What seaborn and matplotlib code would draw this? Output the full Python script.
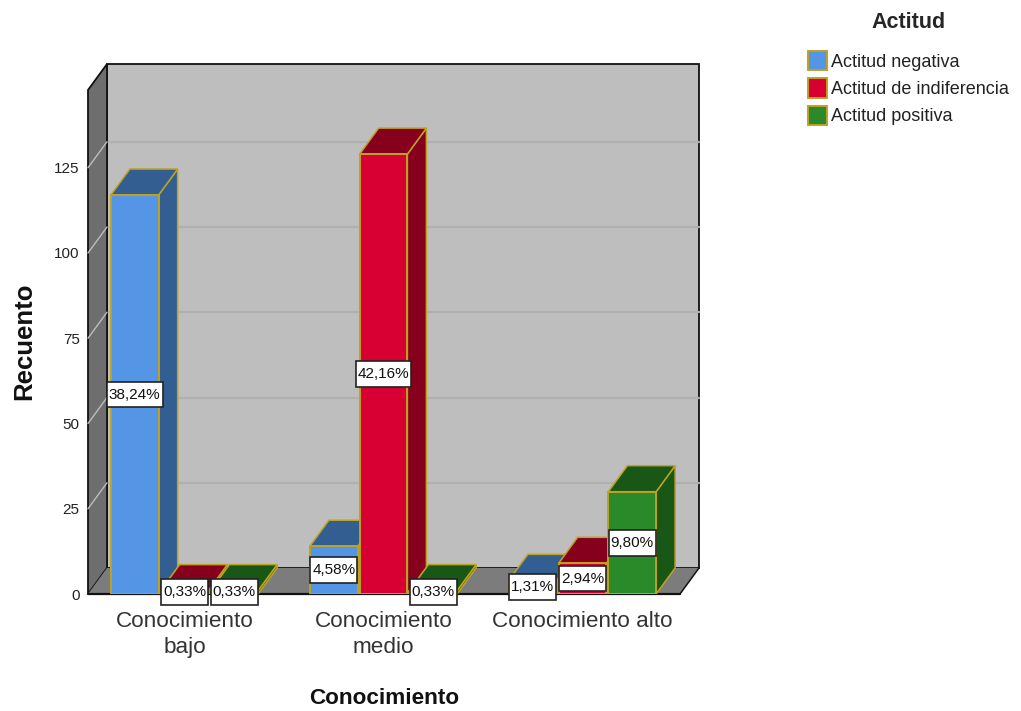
import matplotlib
matplotlib.use('Agg')
import matplotlib.pyplot as plt
import pandas as pd
import seaborn as sns
from matplotlib.patches import Polygon
from matplotlib.path import Path

categories = ['Conocimiento\nbajo', 'Conocimiento\nmedio', 'Conocimiento alto']
attitudes = ['Actitud negativa', 'Actitud de indiferencia', 'Actitud positiva']
negativa = [117, 14, 4]
indiferencia = [1, 129, 9]
positiva = [1, 1, 30]
labels_negativa = ['38,24%', '4,58%', '1,31%']
labels_indiferencia = ['0,33%', '42,16%', '2,94%']
labels_positiva = ['0,33%', '0,33%', '9,80%']
y_ticks = [0, 25, 50, 75, 100, 125]

front_colors = ['#5595E5', '#D80032', '#2A8A2A']
dark_colors = ['#335E92', '#86001E', '#195716']
edge_gold = '#BFA21F'

W, H = 1021, 711
CAT_PX = 199
UNIT_PX = 3.41
DX = 19 / CAT_PX
DY = 26 / UNIT_PX


def label_box(x0, y0, width, height, mutation_size):
    # tight at the sides, roomy above and below, like the SPSS labels
    px, py = 0.13 * mutation_size, 0.38 * mutation_size
    xa, xb, ya, yb = x0 - px, x0 + width + px, y0 - py, y0 + height + py
    return Path([(xa, ya), (xb, ya), (xb, yb), (xa, yb), (xa, ya)], closed=True)


def draw_walls(ax):
    x0, x1 = ax.get_xlim()
    y0, y1 = ax.get_ylim()
    back = [(x0 + DX, y0 + DY), (x1 + DX, y0 + DY), (x1 + DX, y1 + DY), (x0 + DX, y1 + DY)]
    left = [(x0, y0), (x0 + DX, y0 + DY), (x0 + DX, y1 + DY), (x0, y1)]
    floor = [(x0, y0), (x1, y0), (x1 + DX, y0 + DY), (x0 + DX, y0 + DY)]
    ax.add_patch(Polygon(back, fc='#BEBEBE', ec='#111111', lw=1.3, zorder=0.5, clip_on=False))
    ax.add_patch(Polygon(left, fc='#6E6E6E', ec='#111111', lw=1.3, zorder=0.6, clip_on=False))
    ax.add_patch(Polygon(floor, fc='#7C7C7C', ec='none', zorder=0.6, clip_on=False))
    ax.plot([x0, x1], [y0, y0], color='#111111', lw=1.6, zorder=0.9, clip_on=False)
    ax.plot([x1, x1 + DX], [y0, y0 + DY], color='#111111', lw=1.1, zorder=0.9, clip_on=False)
    for tick in y_ticks[1:]:
        ax.plot([x0 + DX, x1 + DX], [tick + DY, tick + DY], color='#B0B0B0', lw=1.6, zorder=0.55, clip_on=False)
        ax.plot([x0, x0 + DX], [tick, tick + DY], color='#BDBDBD', lw=1, zorder=0.7, clip_on=False)


def draw_depth(ax, container, dark):
    for bar in container:
        xa, xb = bar.get_x(), bar.get_x() + bar.get_width()
        top = bar.get_height()
        roof = [(xa, top), (xb, top), (xb + DX, top + DY), (xa + DX, top + DY)]
        side = [(xb, 0), (xb + DX, DY), (xb + DX, top + DY), (xb, top)]
        ax.add_patch(Polygon(side, fc=dark, ec=edge_gold, lw=1.1, zorder=2))
        ax.add_patch(Polygon(roof, fc=dark, ec=edge_gold, lw=1.1, zorder=2))


def main():
    sns.set_theme(style='white')
    plt.rcParams['font.family'] = ['Liberation Sans', 'DejaVu Sans']

    rows = []
    for attitude, values in zip(attitudes, [negativa, indiferencia, positiva]):
        for category, value in zip(categories, values):
            rows.append({'Conocimiento': category, 'Actitud': attitude, 'Recuento': value})
    df = pd.DataFrame(rows)

    fig = plt.figure(figsize=(W / 100, H / 100), dpi=100)
    ax = fig.add_axes([88 / W, 1 - 594 / H, 592 / W, 504 / H])
    sns.barplot(data=df, x='Conocimiento', y='Recuento', hue='Actitud', order=categories,
                hue_order=attitudes, palette=front_colors, saturation=1, width=0.75, gap=0.04,
                edgecolor=edge_gold, linewidth=1.4, zorder=3, ax=ax)

    ax.set_xlim(-0.485, 2.49)
    ax.set_ylim(0, 504 / UNIT_PX)
    ax.patch.set_visible(False)
    sns.despine(ax=ax, left=True, bottom=True)
    draw_walls(ax)

    all_labels = [labels_negativa, labels_indiferencia, labels_positiva]
    for container, dark, labels in zip(ax.containers, dark_colors, all_labels):
        draw_depth(ax, container, dark)
        ax.bar_label(container, labels=labels, label_type='center', fontsize=11, color='#111111',
                     zorder=6, bbox=dict(boxstyle=label_box, fc='white', ec='#222222', lw=1.2))

    ax.set_yticks(y_ticks)
    ax.tick_params(axis='y', length=0, pad=6, labelsize=11, labelcolor='#222222')
    ax.tick_params(axis='x', length=0, pad=12, labelsize=16.2, labelcolor='#333333')
    for label in ax.get_xticklabels():
        label.set_linespacing(1.32)

    ax.set_xlabel('Conocimiento', fontsize=16.2, fontweight='bold', color='#111111')
    ax.xaxis.set_label_coords((384 - 88) / 592, -(698 - 594) / 504)
    ax.xaxis.label.set_va('center')
    ax.set_ylabel('Recuento', fontsize=18.5, fontweight='bold', color='#111111')
    ax.yaxis.set_label_coords((24 - 88) / 592, (594 - 341) / 504)
    ax.yaxis.label.set_va('center')

    handles, names = ax.get_legend_handles_labels()
    legend = ax.legend(handles, names, title='Actitud', loc='upper left', frameon=False,
                       bbox_to_anchor=(801 / W, 1 - 5 / H), bbox_transform=fig.transFigure,
                       fontsize=13, title_fontproperties={'weight': 'bold', 'size': 15.5},
                       handlelength=1.05, handleheight=1.25, handletextpad=0.2, labelspacing=0.42,
                       borderaxespad=0, labelcolor='#222222')
    legend._legend_box.sep = 13

    fig.savefig('out.png', dpi=100)


if __name__ == '__main__':
    main()
